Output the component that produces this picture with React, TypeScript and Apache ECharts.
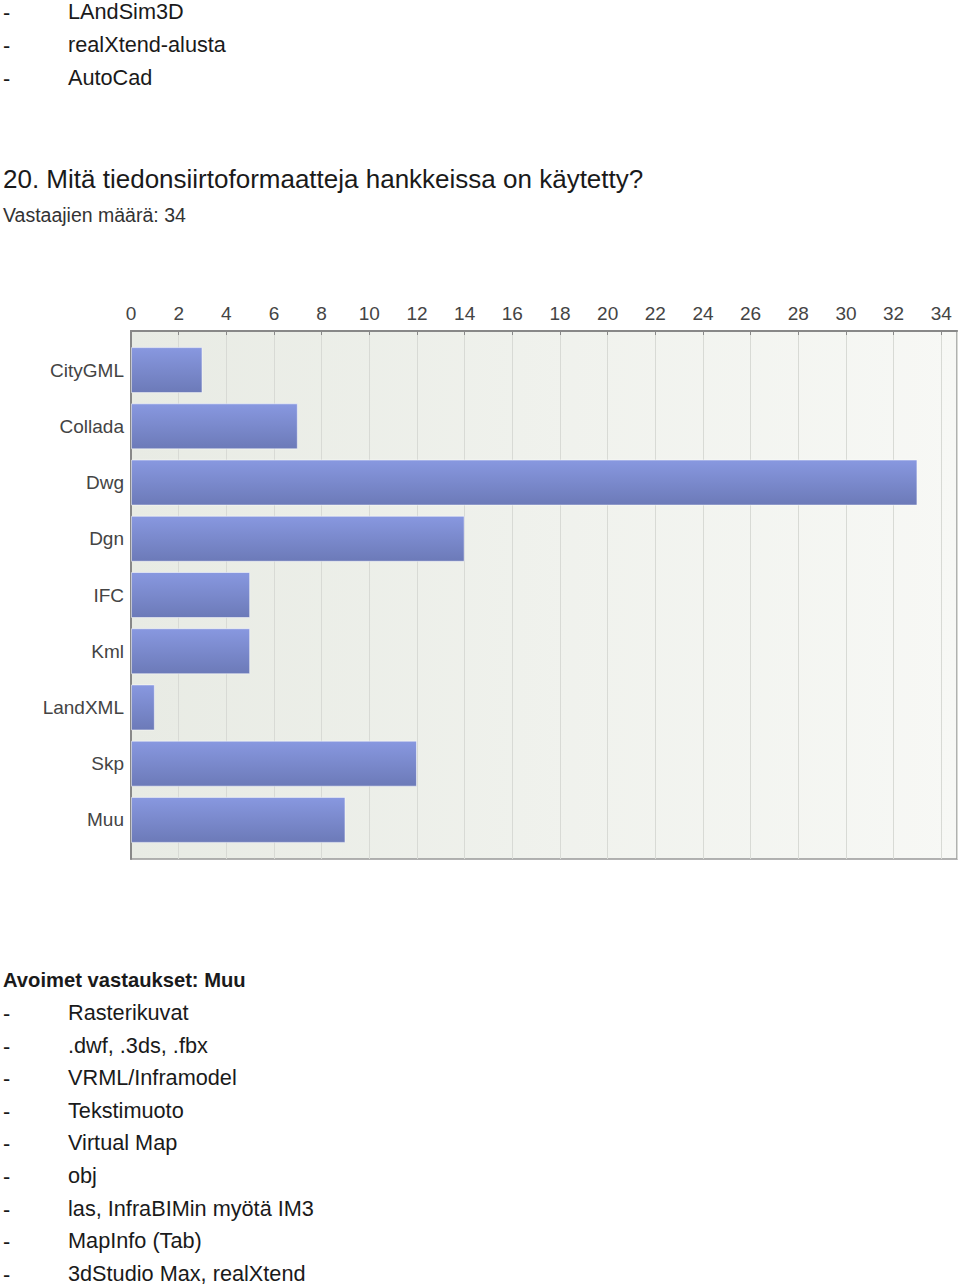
import React, { useEffect, useRef } from "react";
import * as echarts from "echarts";

const categories = ["CityGML", "Collada", "Dwg", "Dgn", "IFC", "Kml", "LandXML", "Skp", "Muu"];
const counts = [3, 7, 33, 14, 5, 5, 1, 12, 9];
const axisMax = 34.66;
const tickStep = 2;

const topItems = ["LAndSim3D", "realXtend-alusta", "AutoCad"];
const title = "20. Mitä tiedonsiirtoformaatteja hankkeissa on käytetty?";
const subtitle = "Vastaajien määrä: 34";
const openHeader = "Avoimet vastaukset: Muu";
const openItems = [
  "Rasterikuvat",
  ".dwf, .3ds, .fbx",
  "VRML/Inframodel",
  "Tekstimuoto",
  "Virtual Map",
  "obj",
  "las, InfraBIMin myötä IM3",
  "MapInfo (Tab)",
  "3dStudio Max, realXtend",
];

const FONT = "Liberation Sans, Arial, sans-serif";

export default function App() {
  const ref = useRef<HTMLDivElement>(null);
  useEffect(() => {
    if (!ref.current) return;
    const chart = echarts.init(ref.current, null, { renderer: "svg" });
    const texts: any[] = [];
    const listText = (y: number, s: string) => {
      texts.push({
        type: "text",
        left: 3,
        top: y - 11,
        style: { text: "-", font: `21.7px ${FONT}`, fill: "#1a1a1a" },
      });
      texts.push({
        type: "text",
        left: 68,
        top: y - 12,
        style: { text: s, font: `21.7px ${FONT}`, fill: "#1a1a1a" },
      });
    };
    topItems.forEach((s, i) => listText(12 + i * 33, s));
    texts.push({
      type: "text",
      left: 3,
      top: 180 - 14,
      style: { text: title, font: `26px ${FONT}`, fill: "#1a1a1a" },
    });
    texts.push({
      type: "text",
      left: 3,
      top: 216 - 11,
      style: { text: subtitle, font: `19.5px ${FONT}`, fill: "#333" },
    });
    texts.push({
      type: "text",
      left: 3,
      top: 981 - 11,
      style: { text: openHeader, font: `bold 20.2px ${FONT}`, fill: "#1a1a1a" },
    });
    openItems.forEach((s, i) => listText(1013.5 + i * 32.6, s));

    chart.setOption({
      animation: false,
      backgroundColor: "#ffffff",
      textStyle: { fontFamily: FONT },
      grid: [
        {
          left: 131,
          top: 331,
          width: 826,
          height: 528,
          show: true,
          backgroundColor: new echarts.graphic.LinearGradient(0, 0, 1, 0, [
            { offset: 0, color: "#e8ebe4" },
            { offset: 1, color: "#f7f8f5" },
          ]),
          borderColor: "#999",
          borderWidth: 1.5,
        },
        { left: 131, top: 342, width: 826, height: 506 },
      ],
      xAxis: [
        {
          gridIndex: 0,
          type: "value",
          position: "top",
          min: 0,
          max: axisMax,
          interval: tickStep,
          axisLine: { show: true, onZero: false, lineStyle: { color: "#888", width: 2 } },
          axisTick: { show: true, inside: true, length: 4, lineStyle: { color: "#888" } },
          axisLabel: { fontSize: 19, color: "#444", margin: 8, showMaxLabel: false },
          splitLine: { show: true, lineStyle: { color: "#d8dad5", width: 1 } },
        },
        {
          gridIndex: 1,
          type: "value",
          min: 0,
          max: axisMax,
          show: false,
          splitLine: { show: false },
        },
      ],
      yAxis: [
        {
          gridIndex: 0,
          type: "value",
          min: 0,
          max: 1,
          axisLine: { show: true, onZero: false, lineStyle: { color: "#888", width: 2 } },
          axisLabel: { show: false },
          axisTick: { show: false },
          splitLine: { show: false },
        },
        {
          gridIndex: 1,
          type: "category",
          inverse: true,
          data: categories,
          axisLine: { show: false },
          axisTick: { show: false },
          axisLabel: { fontSize: 19, color: "#444", margin: 7 },
        },
      ],
      series: [
        {
          type: "bar",
          xAxisIndex: 1,
          yAxisIndex: 1,
          data: counts,
          barWidth: 46,
          itemStyle: {
            color: new echarts.graphic.LinearGradient(0, 0, 0, 1, [
              { offset: 0, color: "#8898e0" },
              { offset: 1, color: "#6c7ab8" },
            ]),
            borderColor: "rgba(255,255,255,0.5)",
            borderWidth: 1,
          },
        },
      ],
      graphic: texts,
    });
    return () => chart.dispose();
  }, []);
  return (
    <div
      ref={ref}
      style={{ position: "fixed", left: 0, top: 0, width: 960, height: 1286 }}
    />
  );
}
